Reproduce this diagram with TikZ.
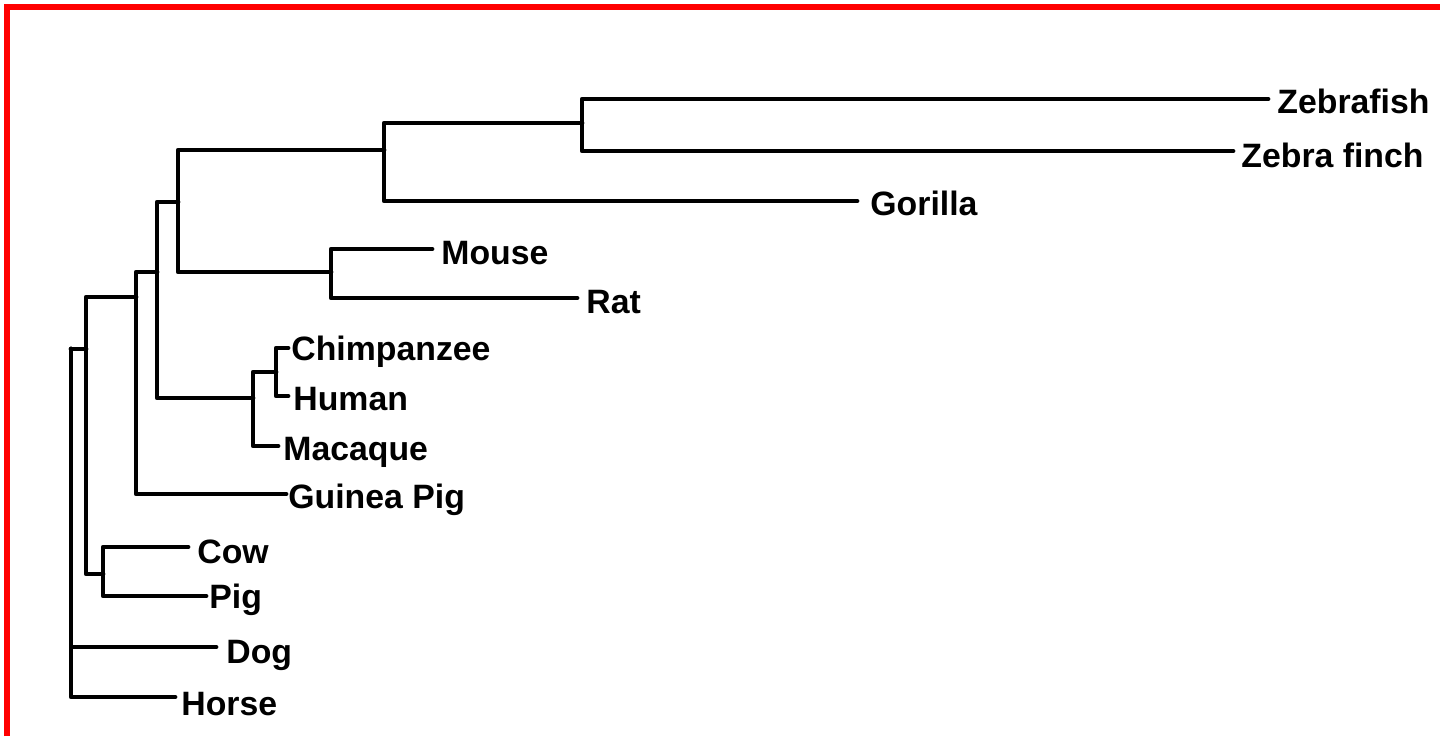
\documentclass[tikz,border=0pt]{standalone}
\usepackage{fontspec}
\setmainfont{Liberation Sans}
\begin{document}
\begin{tikzpicture}[x=0.5pt,y=-0.5pt,
  branch/.style={line width=2.4pt,line cap=round,line join=round,black},
  taxon/.style={anchor=base west,inner sep=0pt,font=\fontsize{16.9}{20}\selectfont\bfseries},
  frame/.style={line width=2.6pt,color=red}]
\useasboundingbox (0,0) rectangle (1440,736);
% frame along the top and left edges
\draw[frame] (7,736) -- (7,7) -- (1440,7);

% internal nodes (placed where the parent branch joins)
\coordinate (root) at (71,349);
\coordinate (nA)   at (86,349);
\coordinate (nB)   at (136,297);
\coordinate (nC)   at (157,272);
\coordinate (nD)   at (178,202);
\coordinate (nE)   at (384,150);
\coordinate (nF)   at (582,123);
\coordinate (nMR)  at (331,272);
\coordinate (nPr)  at (253,398);
\coordinate (nCH)  at (276,372);
\coordinate (nCP)  at (103,574);

% branch tips
\coordinate (tZf)  at (1268,99);
\coordinate (tZb)  at (1233,151);
\coordinate (tGo)  at (857,201);
\coordinate (tMo)  at (432,249);
\coordinate (tRa)  at (577,298);
\coordinate (tCh)  at (288,348);
\coordinate (tHu)  at (288,396);
\coordinate (tMa)  at (278,446);
\coordinate (tGp)  at (286,494);
\coordinate (tCo)  at (188,547);
\coordinate (tPi)  at (206,596);
\coordinate (tDo)  at (216,647);
\coordinate (tHo)  at (175,697);

% taxon labels
\node[taxon] (lZf) at (1277,113) {Zebrafish};
\node[taxon] (lZb) at (1241,167) {Zebra finch};
\node[taxon] (lGo) at (870,215)  {Gorilla};
\node[taxon] (lMo) at (441,264)  {Mouse};
\node[taxon] (lRa) at (586,313)  {Rat};
\node[taxon] (lCh) at (291,360)  {Chimpanzee};
\node[taxon] (lHu) at (293,410)  {Human};
\node[taxon] (lMa) at (283,460)  {Macaque};
\node[taxon] (lGp) at (288,508)  {Guinea Pig};
\node[taxon] (lCo) at (197,563)  {Cow};
\node[taxon] (lPi) at (209,608)  {Pig};
\node[taxon] (lDo) at (226,663)  {Dog};
\node[taxon] (lHo) at (181,715)  {Horse};

% branches
\draw[branch] (root) -- (nA);
\draw[branch] (root) |- (tDo);
\draw[branch] (root) |- (tHo);
\draw[branch] (nA) |- (nB);
\draw[branch] (nA) |- (nCP);
\draw[branch] (nCP) |- (tCo);
\draw[branch] (nCP) |- (tPi);
\draw[branch] (nB) |- (nC);
\draw[branch] (nB) |- (tGp);
\draw[branch] (nC) |- (nD);
\draw[branch] (nC) |- (nPr);
\draw[branch] (nPr) |- (nCH);
\draw[branch] (nPr) |- (tMa);
\draw[branch] (nCH) |- (tCh);
\draw[branch] (nCH) |- (tHu);
\draw[branch] (nD) |- (nE);
\draw[branch] (nD) |- (nMR);
\draw[branch] (nMR) |- (tMo);
\draw[branch] (nMR) |- (tRa);
\draw[branch] (nE) |- (nF);
\draw[branch] (nE) |- (tGo);
\draw[branch] (nF) |- (tZf);
\draw[branch] (nF) |- (tZb);
\end{tikzpicture}
\end{document}
